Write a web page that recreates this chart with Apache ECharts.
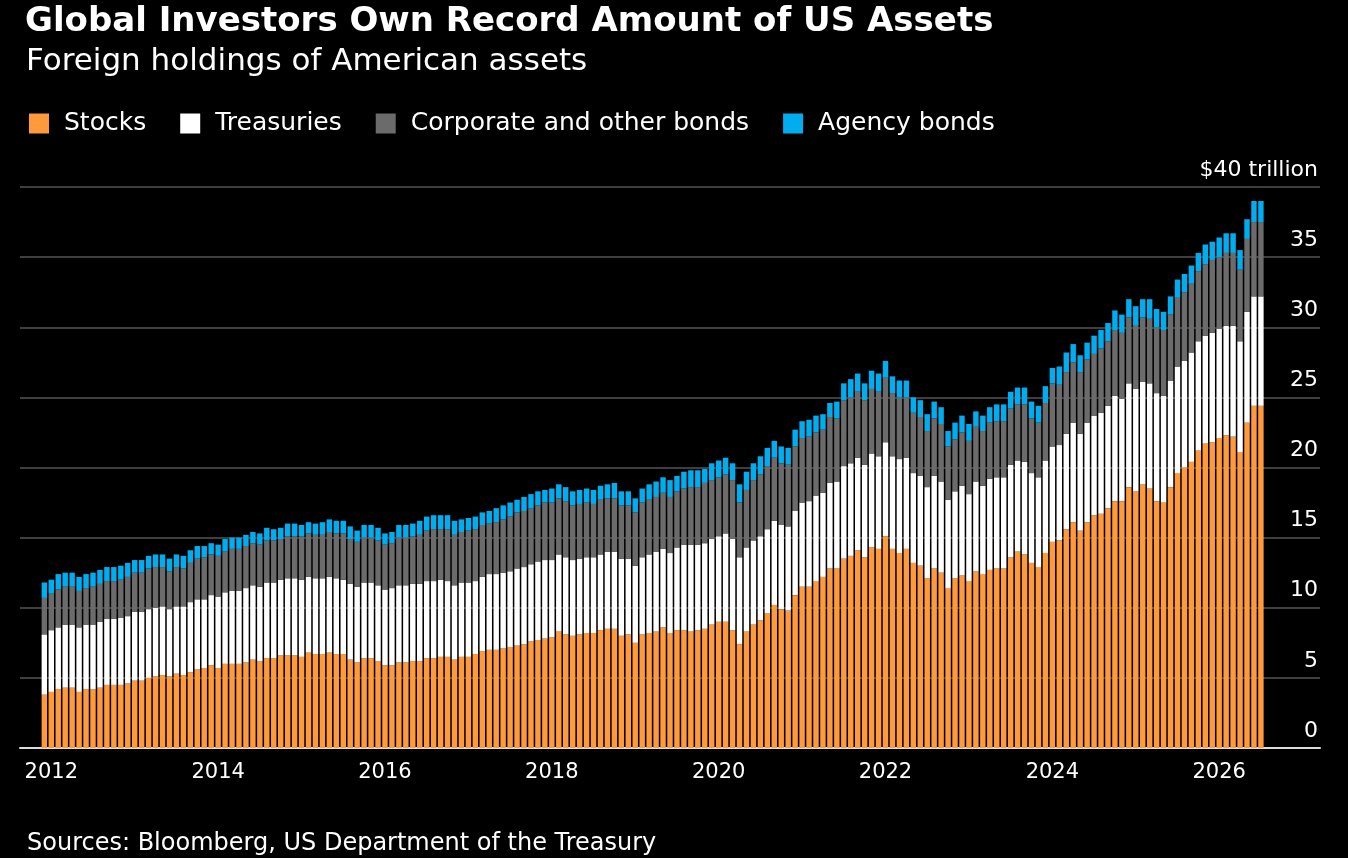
<!DOCTYPE html>
<html><head><meta charset="utf-8">
<script src="https://cdn.jsdelivr.net/npm/echarts@6/dist/echarts.min.js"></script>
<style>html,body{margin:0;padding:0;background:#000;}#c{width:1348px;height:858px;}</style>
</head><body><div id="c"></div>
<script>
// Monthly data, Dec 2011 .. Jul 2026 ($ trillion)
const firstMonth = [2011, 12];
const stocks = [3.8,4.0,4.2,4.3,4.3,4.0,4.2,4.2,4.3,4.5,4.5,4.5,4.6,4.8,4.8,5.0,5.1,5.2,5.1,5.3,5.2,5.4,5.6,5.7,5.9,5.7,6.0,6.0,6.0,6.1,6.3,6.2,6.4,6.4,6.6,6.6,6.6,6.5,6.8,6.7,6.7,6.8,6.7,6.7,6.3,6.1,6.4,6.4,6.2,5.9,5.9,6.1,6.1,6.2,6.2,6.4,6.4,
6.5,6.5,6.3,6.5,6.5,6.7,6.9,7.0,7.0,7.1,7.2,7.3,7.4,7.6,7.7,7.8,7.9,8.3,8.1,8.0,8.1,8.2,8.2,8.4,8.5,8.5,8.0,8.1,7.5,8.1,8.2,8.3,8.6,8.2,8.4,8.4,8.3,8.4,8.5,8.8,9.0,9.0,8.4,7.4,8.3,8.8,9.1,9.6,10.2,9.9,9.8,10.9,11.5,11.5,11.9,12.2,12.8,
12.8,13.5,13.7,14.1,13.6,14.3,14.2,15.1,14.2,13.9,14.2,13.2,13.0,12.1,12.8,12.5,11.4,12.1,12.3,11.9,12.6,12.4,12.7,12.8,12.8,13.6,14.0,13.8,13.2,12.9,13.9,14.7,14.8,15.6,16.1,15.5,16.1,16.6,16.7,17.1,17.6,17.6,18.6,18.3,18.8,18.5,17.6,17.5,18.6,19.6,20.0,20.4,21.2,21.7,21.8,22.1,22.3,22.2,21.1,23.2,24.4,24.4];
const treasuries = [4.3,4.4,4.4,4.5,4.5,4.6,4.6,4.6,4.7,4.7,4.7,4.8,4.8,4.9,4.9,4.9,4.9,4.9,4.8,4.8,4.9,5.0,5.0,4.9,5.0,5.1,5.1,5.2,5.2,5.3,5.3,5.3,5.4,5.4,5.4,5.5,5.5,5.5,5.4,5.4,5.4,5.4,5.4,5.3,5.4,5.4,5.4,5.4,5.4,5.4,5.5,5.5,5.5,5.5,5.5,5.5,5.5,
5.5,5.4,5.3,5.3,5.3,5.2,5.3,5.4,5.4,5.4,5.4,5.5,5.5,5.5,5.6,5.6,5.5,5.5,5.5,5.4,5.4,5.4,5.4,5.4,5.5,5.5,5.5,5.4,5.5,5.5,5.6,5.7,5.6,5.7,5.9,6.1,6.2,6.1,6.1,6.1,6.1,6.3,6.5,6.2,6.0,6.0,6.0,6.0,6.0,6.0,6.0,6.0,6.0,6.1,6.1,6.0,6.1,
6.2,6.6,6.6,6.6,6.6,6.7,6.6,6.7,6.6,6.7,6.5,6.4,6.4,6.5,6.6,6.5,6.3,6.2,6.4,6.2,6.4,6.3,6.5,6.5,6.5,6.6,6.5,6.6,6.4,6.4,6.6,6.8,6.8,6.8,7.1,6.9,7.1,7.1,7.2,7.3,7.5,7.3,7.4,7.3,7.3,7.5,7.7,7.6,7.6,7.6,7.6,7.8,7.8,7.7,7.8,7.8,7.8,7.9,7.9,7.9,7.8,7.8];
const corporate = [2.6,2.6,2.7,2.7,2.7,2.6,2.6,2.7,2.7,2.7,2.7,2.7,2.8,2.8,2.8,2.9,2.9,2.8,2.7,2.8,2.7,2.8,2.9,3.0,2.9,2.9,2.9,3.0,3.0,3.0,3.0,3.0,3.0,3.0,2.9,3.0,3.0,3.1,3.1,3.1,3.1,3.2,3.2,3.3,3.2,3.2,3.2,3.2,3.2,3.2,3.2,3.4,3.4,3.4,3.5,3.6,3.7,
3.6,3.7,3.6,3.6,3.7,3.7,3.7,3.6,3.7,3.8,3.9,4.0,4.0,4.0,4.0,4.1,4.1,4.0,4.0,3.9,3.9,3.9,3.8,3.9,3.8,3.8,3.8,3.8,3.8,3.9,3.9,3.9,4.0,4.0,4.0,4.0,4.1,4.1,4.3,4.2,4.2,4.2,4.2,3.9,4.1,4.3,4.4,4.5,4.5,4.4,4.4,4.6,4.6,4.6,4.5,4.5,4.7,
4.5,4.7,4.7,4.7,4.6,4.6,4.6,4.6,4.5,4.4,4.3,4.3,4.2,4.0,4.1,4.1,3.8,3.7,3.8,3.8,3.9,3.9,4.0,4.0,4.0,4.0,4.0,4.1,3.9,3.9,4.1,4.5,4.3,4.4,4.3,4.4,4.5,4.4,4.6,4.6,4.7,4.7,4.7,4.5,4.6,4.6,4.7,4.7,4.7,4.9,4.9,4.9,5.0,5.1,5.2,5.1,5.2,5.2,5.1,5.2,5.3,5.3];
const agency = [1.1,1.0,1.1,1.0,1.0,1.0,1.0,1.0,1.0,1.0,1.0,1.0,1.0,0.9,0.9,0.9,0.9,0.9,0.9,0.9,0.9,0.9,0.9,0.8,0.8,0.8,0.9,0.8,0.8,0.8,0.8,0.8,0.9,0.8,0.8,0.9,0.9,0.8,0.8,0.8,0.9,0.9,0.9,0.9,0.9,0.8,0.9,0.9,0.9,0.8,0.8,0.9,0.9,0.9,1.0,1.0,1.0,
1.0,1.0,1.0,0.9,0.9,0.9,0.9,0.9,1.0,1.0,1.0,0.9,1.0,1.0,1.0,0.9,1.0,1.0,1.0,1.0,1.0,1.0,1.0,1.0,1.0,1.1,1.0,1.0,1.0,1.0,1.1,1.1,1.1,1.2,1.1,1.2,1.2,1.2,1.0,1.2,1.2,1.2,1.2,1.3,1.3,1.2,1.3,1.3,1.2,1.2,1.2,1.2,1.2,1.2,1.2,1.1,1.0,
1.2,1.2,1.3,1.3,1.2,1.3,1.3,1.2,1.2,1.2,1.2,1.1,1.2,1.2,1.2,1.2,1.1,1.2,1.2,1.2,1.1,1.1,1.1,1.2,1.2,1.2,1.2,1.2,1.2,1.2,1.2,1.1,1.3,1.4,1.3,1.2,1.2,1.3,1.3,1.3,1.4,1.3,1.3,1.4,1.3,1.4,1.3,1.3,1.3,1.3,1.3,1.3,1.3,1.4,1.3,1.4,1.4,1.4,1.4,1.4,1.5,1.5];
const yTicks = [0,5,10,15,20,25,30,35,40];
const padBefore = 3, padAfter = 8;

const cats = [];
let y = firstMonth[0], m = firstMonth[1] - padBefore;
while (m < 1) { m += 12; y--; }
const total = padBefore + stocks.length + padAfter;
for (let i = 0; i < total; i++) {
  cats.push(y + '-' + String(m).padStart(2, '0'));
  m++; if (m > 12) { m = 1; y++; }
}
const pad = a => Array(padBefore).fill('-').concat(a, Array(padAfter).fill('-'));
const isJan = (i) => cats[i].endsWith('-01');
const font = 'DejaVu Sans';
const chart = echarts.init(document.getElementById('c'));
const mk = (name, data, color) => ({name, type:'bar', stack:'t', data: pad(data), itemStyle:{color}, barCategoryGap:'22%', emphasis:{disabled:true}});
chart.setOption({
  backgroundColor:'#000',
  animation:false,
  title:[
    {text:'Global Investors Own Record Amount of US Assets', left:20, top:0, textStyle:{color:'#fff', fontFamily:font, fontWeight:'bold', fontSize:34}},
    {text:'Foreign holdings of American assets', left:21, top:41, textStyle:{color:'#fff', fontFamily:font, fontWeight:'normal', fontSize:31}},
    {text:'Sources: Bloomberg, US Department of the Treasury', left:22, top:827, textStyle:{color:'#fff', fontFamily:font, fontWeight:'normal', fontSize:24}}
  ],
  legend:{left:24, top:106, icon:'rect', itemWidth:20, itemHeight:20, itemGap:34, selectedMode:false,
    textStyle:{color:'#fff', fontFamily:font, fontSize:25, padding:[0,0,0,10]},
    data:['Stocks','Treasuries','Corporate and other bonds','Agency bonds']},
  grid:{left:20, right:28, top:187, bottom:110},
  xAxis:{type:'category', data:cats,
    axisLine:{lineStyle:{color:'#ddd', width:2}},
    axisTick:{alignWithLabel:true, interval:(i)=>isJan(i), length:7, lineStyle:{color:'#ddd', width:2}},
    axisLabel:{interval:(i)=>isJan(i) && (+cats[i].slice(0,4))%2===0, formatter:v=>v.slice(0,4), color:'#fff', fontFamily:font, fontSize:21, margin:14}},
  yAxis:{type:'value', min:0, max:40, interval:5, position:'right',
    axisLine:{show:false}, axisTick:{show:false},
    splitLine:{lineStyle:{color:'#555', width:1.5}},
    axisLabel:{inside:true, color:'#fff', fontFamily:font, fontSize:22, verticalAlign:'bottom', margin:2, padding:[0,0,6,0],
      formatter:v=> v===40 ? '$40 trillion' : (yTicks.includes(v)? String(v):'')}},
  series:[
    mk('Stocks', stocks, '#ff9a3c'),
    mk('Treasuries', treasuries, '#ffffff'),
    mk('Corporate and other bonds', corporate, '#6b6b6b'),
    mk('Agency bonds', agency, '#00aeef')
  ]
});
</script></body></html>
